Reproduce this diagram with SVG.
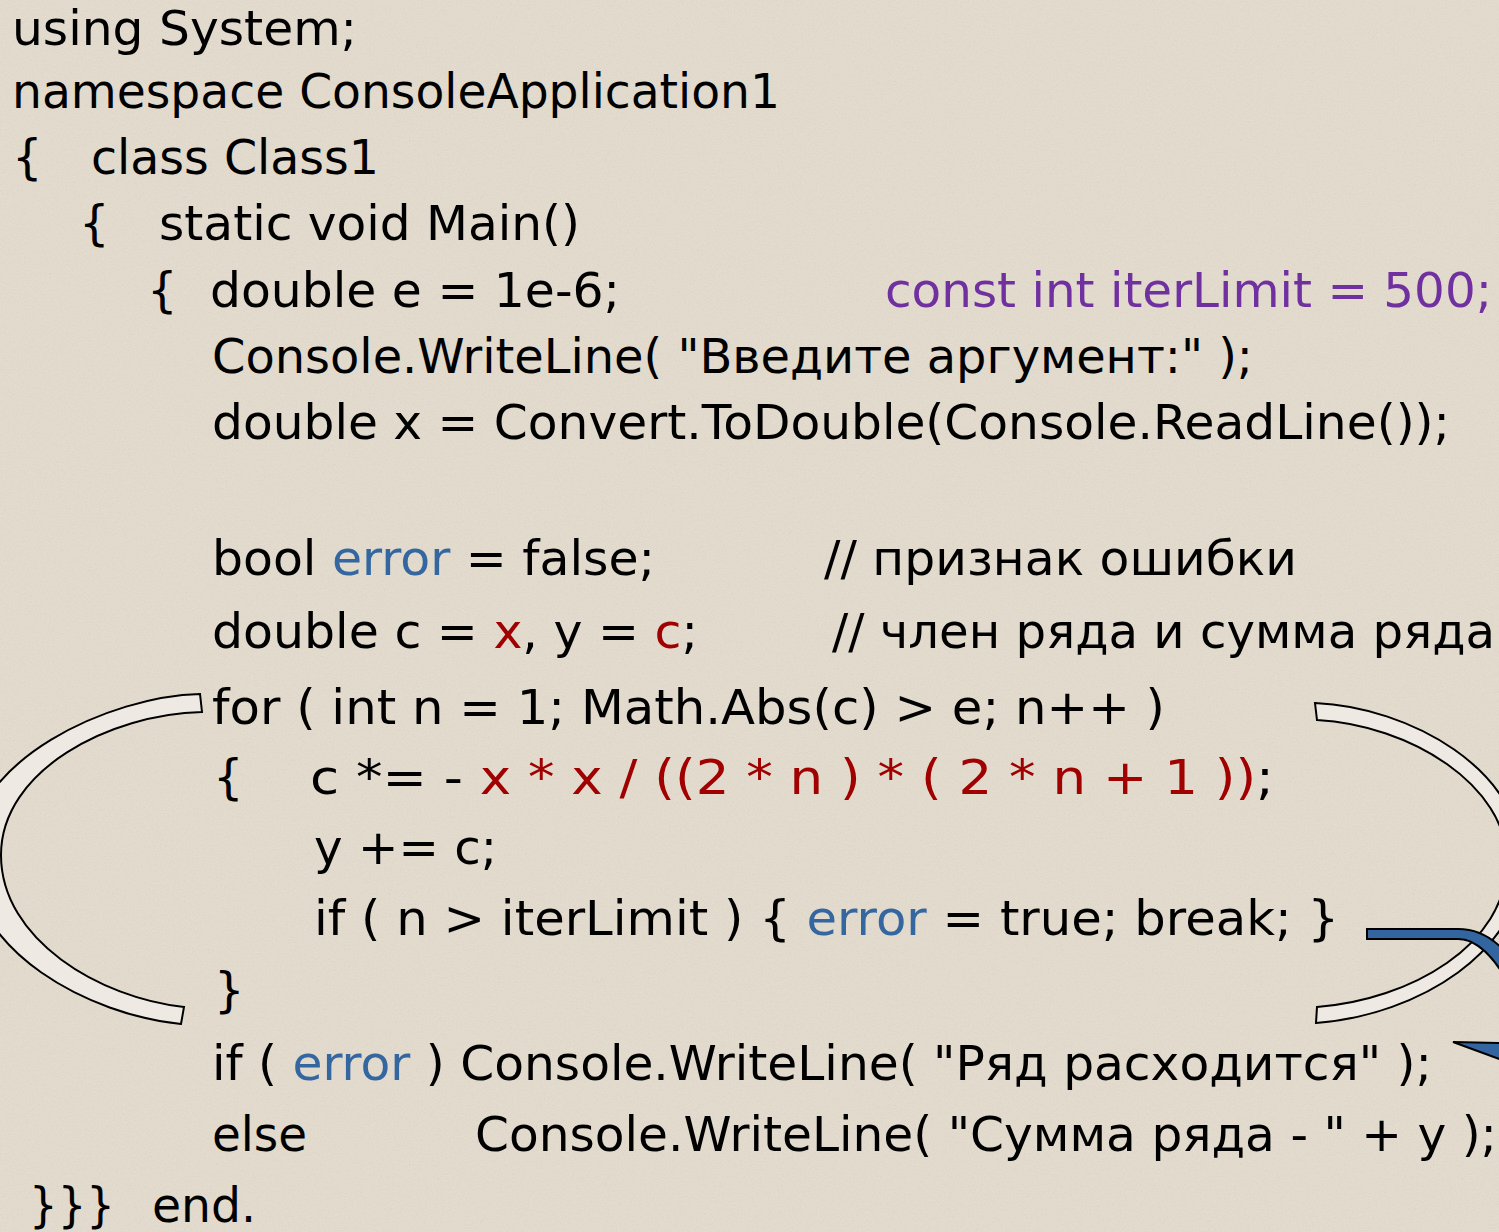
<svg xmlns="http://www.w3.org/2000/svg" width="1499" height="1232" viewBox="0 0 1499 1232">
<defs>
<style>
text{font-family:"DejaVu Sans",Verdana,"Noto Sans",sans-serif;font-size:48px;fill:#000;white-space:pre}
.r{fill:#A00000}
.b{fill:#3467A0}
.p{fill:#7030A0}
.band{fill:#EEEAE3;stroke:#000;stroke-width:2;stroke-linejoin:miter}
.blue{fill:#3366A0;stroke:#000;stroke-width:2}
</style>
<filter id="grain" x="0" y="0" width="100%" height="100%">
<feTurbulence type="fractalNoise" baseFrequency="0.75" numOctaves="2" seed="7" result="n"/>
<feColorMatrix in="n" type="matrix" values="0 0 0 0 0.55  0 0 0 0 0.50  0 0 0 0 0.42  1.6 0 0 0 -0.75"/>
</filter>
</defs>
<rect x="0" y="0" width="1499" height="1232" fill="#E2DBCE"/>
<rect x="0" y="0" width="1499" height="1232" filter="url(#grain)" opacity="0.4"/>

<g id="connectors">
<path id="loop-left" class="band" d="M200,694 C110,696 -30,760 -30,855 C-30,952 90,1015 181,1024 L184,1007 C100,998 1,940 1,855 C1,770 110,714 202,712 Z"/>
<path id="loop-right" class="band" d="M1315,703 C1410,707 1522,770 1522,862 C1522,950 1420,1015 1316,1023 L1317,1007 C1410,1000 1507,945 1507,862 C1507,785 1410,725 1317,720 Z"/>
<path id="break-arrow" class="blue" d="M1367,929 L1458,929 C1478,929 1494,938 1508,955 L1508,982 C1494,958 1478,939 1458,939 L1367,939 Z"/>
<path id="break-arrowhead" class="blue" d="M1453,1042 L1502,1043 L1502,1060 Z"/>
</g>

<g id="code">
<g id="line1"><text x="12" y="45" textLength="345" lengthAdjust="spacingAndGlyphs">using System;</text></g>
<g id="line2"><text x="12" y="108" textLength="768" lengthAdjust="spacingAndGlyphs">namespace ConsoleApplication1</text></g>
<g id="line3"><text x="12" y="174">{</text><text x="91" y="174" textLength="288" lengthAdjust="spacingAndGlyphs">class Class1</text></g>
<g id="line4"><text x="79" y="240">{</text><text x="159" y="240" textLength="421" lengthAdjust="spacingAndGlyphs">static void Main()</text></g>
<g id="line5"><text x="147" y="307">{</text><text x="210" y="307" textLength="410" lengthAdjust="spacingAndGlyphs">double e = 1e-6;</text><text class="p" x="885" y="307" textLength="607" lengthAdjust="spacingAndGlyphs">const int iterLimit = 500;</text></g>
<g id="line6"><text x="212" y="373" textLength="1041" lengthAdjust="spacingAndGlyphs">Console.WriteLine( "Введите аргумент:" );</text></g>
<g id="line7"><text x="212" y="439" textLength="1238" lengthAdjust="spacingAndGlyphs">double x = Convert.ToDouble(Console.ReadLine());</text></g>
<g id="line8"><text x="212" y="575" textLength="443" lengthAdjust="spacingAndGlyphs">bool <tspan class="b">error</tspan> = false;</text><text x="824" y="575" textLength="473" lengthAdjust="spacingAndGlyphs">// признак ошибки</text></g>
<g id="line9"><text x="212" y="648" textLength="486" lengthAdjust="spacingAndGlyphs">double c = <tspan class="r">x</tspan>, y = <tspan class="r">c</tspan>;</text><text x="832" y="648" textLength="663" lengthAdjust="spacingAndGlyphs">// член ряда и сумма ряда</text></g>
<g id="line10"><text x="212" y="724" textLength="953" lengthAdjust="spacingAndGlyphs">for ( int n = 1; Math.Abs(c) &gt; e; n++ )</text></g>
<g id="line11"><text x="213" y="794">{</text><text x="310" y="794" textLength="964" lengthAdjust="spacingAndGlyphs">c *= - <tspan class="r">x * x / ((2 * n ) * ( 2 * n + 1 ))</tspan>;</text></g>
<g id="line12"><text x="314" y="864" textLength="183" lengthAdjust="spacingAndGlyphs">y += c;</text></g>
<g id="line13"><text x="314" y="935" textLength="1025" lengthAdjust="spacingAndGlyphs">if ( n &gt; iterLimit ) { <tspan class="b">error</tspan> = true; break; }</text></g>
<g id="line14"><text x="214" y="1007">}</text></g>
<g id="line15"><text x="212" y="1080" textLength="1220" lengthAdjust="spacingAndGlyphs">if ( <tspan class="b">error</tspan> ) Console.WriteLine( "Ряд расходится" );</text></g>
<g id="line16"><text x="212" y="1151" textLength="95" lengthAdjust="spacingAndGlyphs">else</text><text x="475" y="1151" textLength="1022" lengthAdjust="spacingAndGlyphs">Console.WriteLine( "Сумма ряда - " + y );</text></g>
<g id="line17"><text x="29" y="1222" textLength="86" lengthAdjust="spacingAndGlyphs">}}}</text><text x="152" y="1222" textLength="104" lengthAdjust="spacingAndGlyphs">end.</text></g>
</g>
</svg>
